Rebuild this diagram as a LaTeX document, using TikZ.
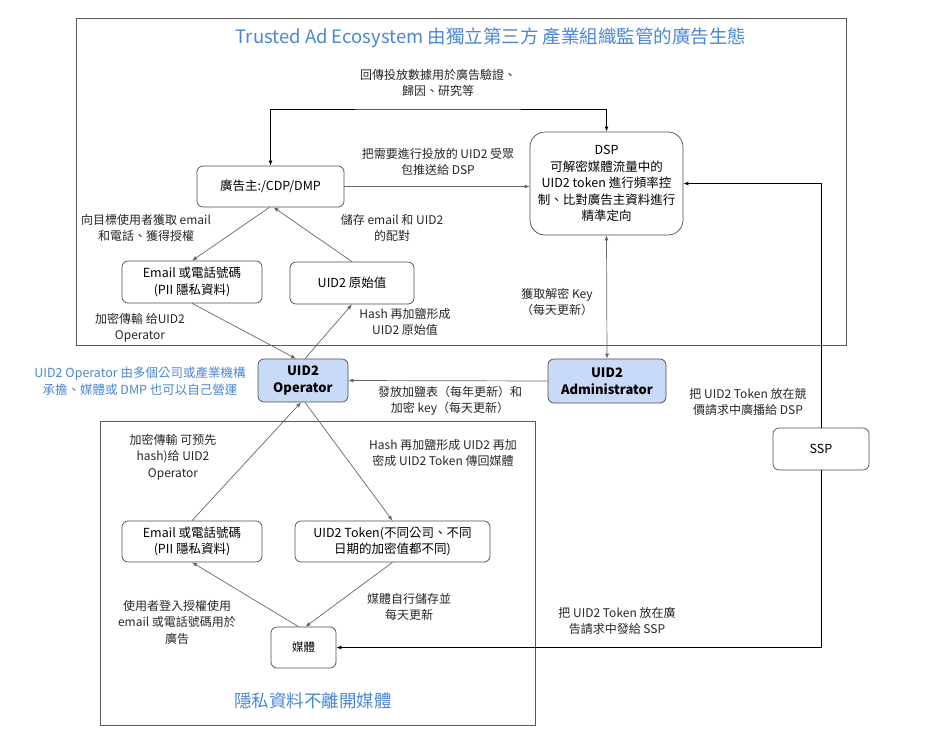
\documentclass[tikz,border=0pt]{standalone}
\usepackage{fontspec}
\setmainfont{Noto Sans CJK TC}
\usetikzlibrary{arrows.meta}
\definecolor{noteblue}{RGB}{74,134,210}
\definecolor{opfill}{RGB}{201,218,248}
\tikzset{
  box/.style={draw=black!70, line width=0.7pt, rounded corners=6pt, align=center, inner sep=2pt,
    font=\fontsize{12.5}{16.5}\selectfont},
  opbox/.style={box, fill=opfill, font=\bfseries\fontsize{13}{17}\selectfont},
  lbl/.style={align=center, inner sep=0pt, text=black!85, font=\fontsize{12}{16.5}\selectfont},
  bluelbl/.style={align=center, inner sep=0pt, text=noteblue},
  frame/.style={draw=black!65, line width=0.8pt},
  conn/.style={draw=black!60, line width=0.7pt, ->},
  flow/.style={draw=black, line width=1pt, ->},
}
\begin{document}
\begin{tikzpicture}[x=1pt, y=-1pt, >={Latex[length=5pt,width=4pt]}]
  \useasboundingbox (0,0) rectangle (940,752);
  % groups
  \draw[frame] (76,18) rectangle (846,345);
  \draw[frame] (100,421) rectangle (535,725);
  \node[bluelbl, font=\fontsize{18.5}{22}\selectfont] (ttl) at (491,38) {Trusted Ad Ecosystem 由獨立第三方 產業組織監管的廣告生態};
  \node[bluelbl, font=\fontsize{17.5}{21}\selectfont] (privacy) at (313,701) {隱私資料不離開媒體};

  % boxes
  \node[box, minimum width=147pt, minimum height=41pt] (ad) at (270.5,186.5) {廣告主:/CDP/DMP};
  \node[box, rounded corners=15pt, minimum width=153pt, minimum height=103pt] (dsp) at (606.5,183.5)
    {DSP\\可解密媒體流量中的\\UID2 token 進行頻率控\\制、比對廣告主資料進行\\精準定向};
  \node[box, minimum width=140pt, minimum height=42pt] (emailtop) at (192,282) {Email 或電話號碼\\(PII 隱私資料)};
  \node[box, minimum width=124pt, minimum height=42pt] (raw) at (352,283) {UID2 原始值};
  \node[opbox, minimum width=90pt, minimum height=43pt] (op) at (303,380.5) {UID2\\Operator};
  \node[opbox, minimum width=118pt, minimum height=44pt] (admin) at (607,381) {UID2\\Administrator};
  \node[box, minimum width=96pt, minimum height=42pt] (ssp) at (821,449) {SSP};
  \node[box, minimum width=140pt, minimum height=41pt] (emailbot) at (192,541.5) {Email 或電話號碼\\(PII 隱私資料)};
  \node[box, minimum width=195pt, minimum height=41pt] (token) at (392.5,541.5) {UID2 Token(不同公司、不同\\日期的加密值都不同)};
  \node[box, minimum width=65pt, minimum height=41pt, font=\fontsize{11.5}{14}\selectfont] (media) at (303.5,647.5) {媒體};

  % connectors
  \coordinate (fbtop) at (438,109);
  \draw[flow, <->] (ad.north) |- (fbtop) -| (dsp.north);
  \draw[conn] (ad.east) -- (ad.east -| dsp.west);
  \draw[flow] (ssp.north) |- (dsp.east);
  \draw[flow] (ssp.south) |- (media.east);
  \draw[conn, <->] (dsp.south) -- (admin.north);
  \draw[conn] (admin.west) -- (op.east);
  \draw[conn] ([xshift=-1pt]ad.south) -- (emailtop.north);
  \draw[conn] (raw.north) -- ([xshift=3pt]ad.south);
  \draw[conn] (emailtop.south) -- ([xshift=-7pt]op.north);
  \draw[conn] ([xshift=2pt]op.north) -- (raw.south);
  \draw[conn] (emailbot.north) -- ([xshift=-2pt]op.south);
  \draw[conn] ([xshift=2pt]op.south) -- (token.north);
  \draw[conn] (token.south) -- ([xshift=2pt]media.north);
  \draw[conn] ([xshift=-5pt]media.north) -- (emailbot.south);

  % labels
  \node[lbl] (fblbl) at (438,83) {回傳投放數據用於廣告驗證、\\歸因、研究等};
  \node[lbl] (pushlbl) at (438,162) {把需要進行投放的 UID2 受眾\\包推送給 DSP};
  \node[lbl] (consentlbl) at (146,228) {向目標使用者獲取 email\\和電話、獲得授權};
  \node[lbl] (storelbl) at (392,228) {儲存 email 和 UID2\\的配對};
  \node[lbl] (senttop) at (140,328) {加密傳輸 给UID2\\Operator};
  \node[lbl] (hashraw) at (405,322) {Hash 再加鹽形成\\UID2 原始值};
  \node[lbl] (keylbl) at (557,302) {獲取解密 Key\\（每天更新）};
  \node[bluelbl, font=\fontsize{12.5}{17}\selectfont] (opnote) at (140,381) {UID2 Operator 由多個公司或產業機構\\承擔、媒體或 DMP 也可以自己營運};
  \node[lbl] (saltlbl) at (450,401) {發放加鹽表（每年更新）和\\加密 key（每天更新）};
  \node[lbl] (bidlbl) at (748,402) {把 UID2 Token 放在競\\價請求中廣播給 DSP};
  \node[lbl] (sentbot) at (173,457) {加密傳輸 可预先\\hash)给 UID2\\Operator};
  \node[lbl] (hashtoken) at (443,453) {Hash 再加鹽形成 UID2 再加\\密成 UID2 Token 傳回媒體};
  \node[lbl] (loginlbl) at (177,622) {使用者登入授權使用\\email 或電話號碼用於\\廣告};
  \node[lbl] (selflbl) at (409,607) {媒體自行儲存並\\每天更新};
  \node[lbl] (reqlbl) at (617,621) {把 UID2 Token 放在廣\\告請求中發給 SSP};
\end{tikzpicture}
\end{document}
